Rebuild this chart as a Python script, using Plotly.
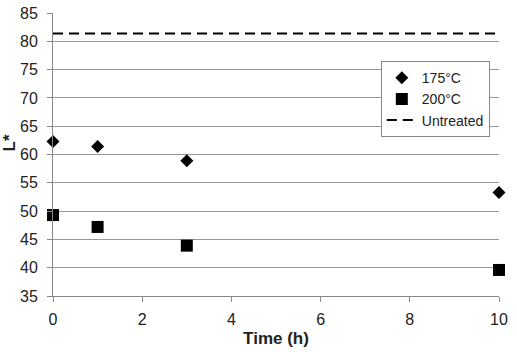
import plotly.graph_objects as go

time_h = [0, 1, 3, 10]
l_175 = [62.3, 61.4, 58.9, 53.3]
l_200 = [49.3, 47.2, 43.9, 39.6]
untreated_x = [0, 10]
untreated_val = [81.4, 81.4]
x_ticks = [0, 2, 4, 6, 8, 10]
y_ticks = [35, 40, 45, 50, 55, 60, 65, 70, 75, 80, 85]

fig = go.Figure()
fig.add_trace(go.Scatter(x=time_h, y=l_175, mode="markers", name="175°C", cliponaxis=False,
                         marker=dict(symbol="diamond", size=10, color="black")))
fig.add_trace(go.Scatter(x=time_h, y=l_200, mode="markers", name="200°C", cliponaxis=False,
                         marker=dict(symbol="square", size=12, color="black")))
fig.add_trace(go.Scatter(x=untreated_x, y=untreated_val, mode="lines", name="Untreated",
                         line=dict(color="black", width=2, dash="10px,6px")))

fig.update_layout(
    width=517, height=352,
    margin=dict(l=53, r=18, t=13, b=56),
    paper_bgcolor="white", plot_bgcolor="white",
    font=dict(family="Arial, Liberation Sans, sans-serif", size=16, color="#222"),
    showlegend=True,
    legend=dict(x=0.735, y=0.83, xanchor="left", yanchor="top",
                bgcolor="white", bordercolor="#888", borderwidth=1,
                font=dict(size=14, color="#222"), tracegroupgap=0,
                itemwidth=30),
    xaxis=dict(range=[0, 10], tickvals=x_ticks, showgrid=False, zeroline=False,
               showline=True, linecolor="#888", linewidth=1, automargin=False,
               ticks="outside", ticklen=5, tickcolor="#888", ticklabelstandoff=4,
               title=dict(text="<b>Time (h)</b>", standoff=4, font=dict(size=17, color="#222"))),
    yaxis=dict(range=[35, 85], tickvals=y_ticks, showgrid=True, gridcolor="#999",
               gridwidth=1, zeroline=False, showline=True, linecolor="#888", linewidth=1,
               automargin=False,
               ticks="outside", ticklen=5, tickcolor="#888", ticklabelstandoff=6),
    annotations=[dict(text="<b>L*</b>", x=-0.098, y=0.54, xref="paper", yref="paper",
                      textangle=-90, showarrow=False, font=dict(size=17, color="#222"),
                      xanchor="center", yanchor="middle")],
)

fig.write_html("out.html")
